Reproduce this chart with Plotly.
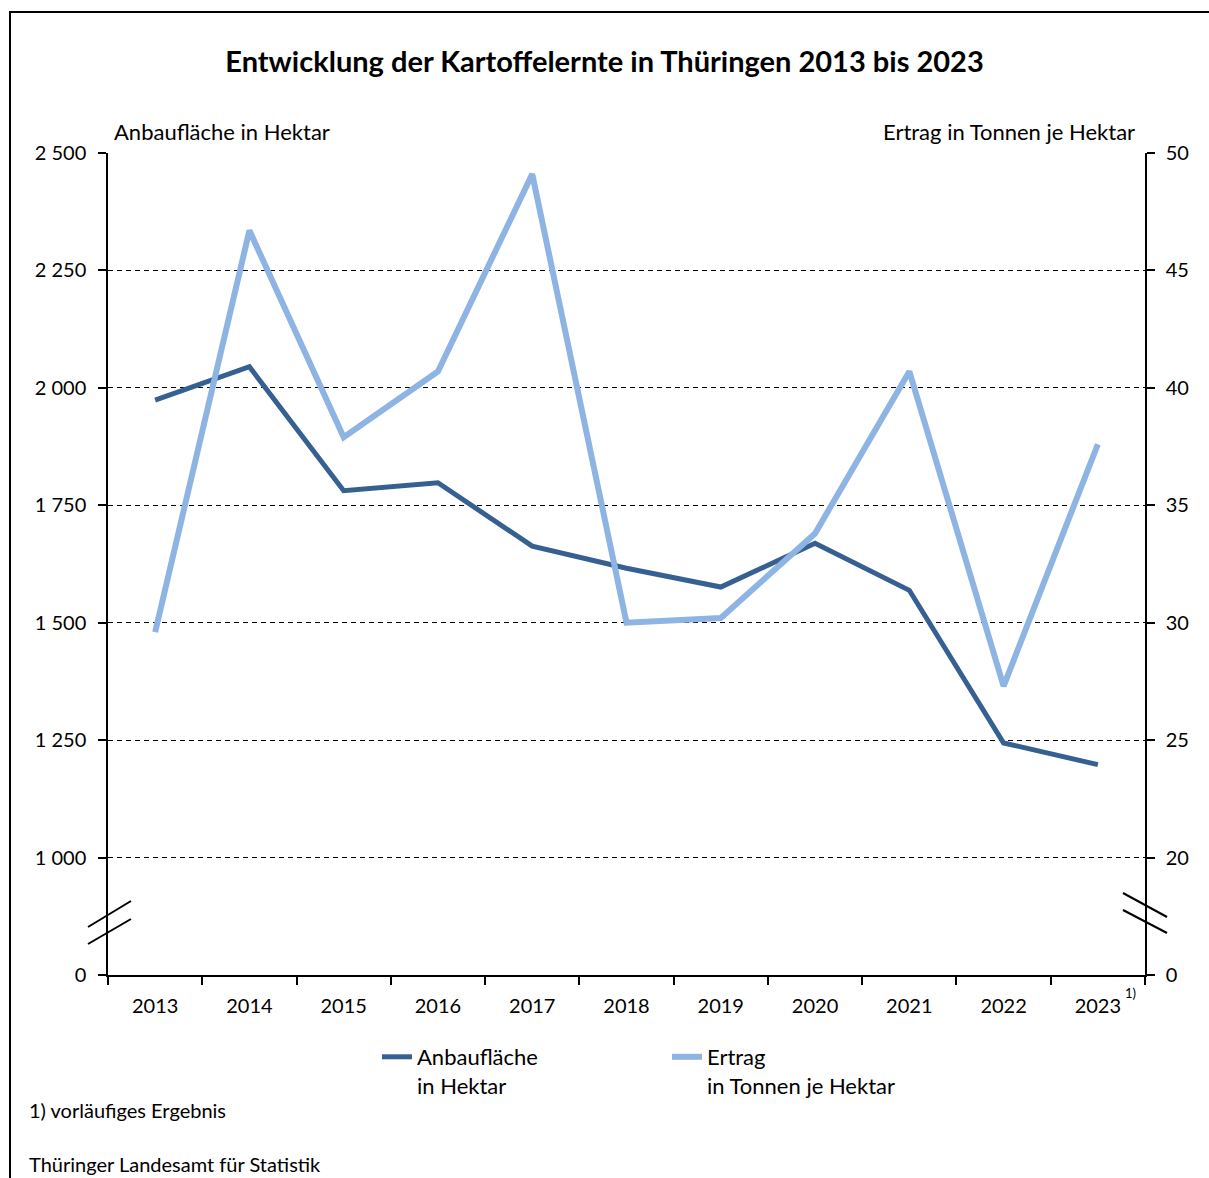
import plotly.graph_objects as go

years = ["2013", "2014", "2015", "2016", "2017", "2018", "2019", "2020", "2021", "2022", "2023"]
anbauflaeche = [1974, 2045, 1781, 1798, 1663, 1616, 1576, 1669, 1569, 1244, 1198]
ertrag = [29.6, 46.7, 37.9, 40.7, 49.1, 30.0, 30.2, 33.8, 40.7, 27.3, 37.6]

left_tickvals = [750, 1000, 1250, 1500, 1750, 2000, 2250, 2500]
left_ticktext = ["0", "1 000", "1 250", "1 500", "1 750", "2 000", "2 250", "2 500"]
right_tickvals = [15, 20, 25, 30, 35, 40, 45, 50]
right_ticktext = ["0", "20", "25", "30", "35", "40", "45", "50"]

FONT = "Lato"
W, H = 1209, 1178
L, R, T, B = 108, 1145, 153, 975
pw, ph = R - L, B - T


def px(xp):
    return (xp - L) / pw


def py(yp):
    return (B - yp) / ph


fig = go.Figure()
fig.add_trace(go.Scatter(
    x=years, y=anbauflaeche, mode="lines",
    name="Anbaufläche<br>in Hektar",
    line=dict(color="#366092", width=5),
    yaxis="y",
))
fig.add_trace(go.Scatter(
    x=years, y=ertrag, mode="lines",
    name="Ertrag<br>in Tonnen je Hektar",
    line=dict(color="#8EB4E3", width=6),
    yaxis="y2",
))

shapes = []
# outer frame
shapes.append(dict(type="rect", xref="paper", yref="paper",
                   x0=px(10), x1=px(1213), y0=py(1195), y1=py(12),
                   line=dict(color="black", width=2), layer="below"))
# axis break marks
for (x0, y0, x1, y1) in [(88, 927, 131, 901), (88, 944, 131, 919),
                         (1123, 893, 1167, 917), (1123, 910, 1167, 933)]:
    shapes.append(dict(type="line", xref="paper", yref="paper",
                       x0=px(x0), y0=py(y0), x1=px(x1), y1=py(y1),
                       line=dict(color="black", width=2)))

annotations = [
    dict(text="Anbaufläche in Hektar", xref="paper", yref="paper",
         x=px(112), y=py(132), xanchor="left", yanchor="middle",
         showarrow=False, font=dict(size=22, color="black", family=FONT)),
    dict(text="Ertrag in Tonnen je Hektar", xref="paper", yref="paper",
         x=px(1137), y=py(132), xanchor="right", yanchor="middle",
         showarrow=False, font=dict(size=22, color="black", family=FONT)),
    dict(text="1)", xref="x", yref="paper", x=len(years) - 1, y=py(993),
         xshift=25, xanchor="left", yanchor="middle",
         showarrow=False, font=dict(size=13, color="black", family=FONT)),
    dict(text="1) vorläufiges Ergebnis", xref="paper", yref="paper",
         x=px(27), y=py(1110), xanchor="left", yanchor="middle",
         showarrow=False, font=dict(size=20, color="black", family=FONT)),
    dict(text="Thüringer Landesamt für Statistik", xref="paper", yref="paper",
         x=px(27), y=py(1164), xanchor="left", yanchor="middle",
         showarrow=False, font=dict(size=20, color="black", family=FONT)),
]

fig.update_layout(
    width=W, height=H,
    margin=dict(l=L, r=W - R, t=T, b=H - B),
    paper_bgcolor="white", plot_bgcolor="white",
    font=dict(family=FONT, size=20, color="black"),
    title=dict(text="<b>Entwicklung der Kartoffelernte in Thüringen 2013 bis 2023</b>",
               x=0.5, xref="container", xanchor="center",
               y=1 - 62 / H, yref="container", yanchor="middle",
               font=dict(size=29, family=FONT, color="black")),
    xaxis=dict(type="category", range=[-0.5, len(years) - 0.5],
               showline=True, linecolor="black", linewidth=1.5,
               ticks="outside", tickson="boundaries", ticklen=8, tickwidth=1.5,
               tickcolor="black", showgrid=False, zeroline=False,
               ticklabelstandoff=12,
               tickangle=0, tickfont=dict(size=20)),
    yaxis=dict(range=[750, 2500], tickvals=left_tickvals, ticktext=left_ticktext,
               showline=True, linecolor="black", linewidth=1.5,
               ticks="outside", ticklen=8, tickwidth=1.5, tickcolor="black",
               ticklabelstandoff=8,
               showgrid=True, gridcolor="black", gridwidth=1, griddash="5px,4px",
               zeroline=False, tickfont=dict(size=20)),
    yaxis2=dict(range=[15, 50], tickvals=right_tickvals, ticktext=right_ticktext,
                overlaying="y", side="right", anchor="x",
                showline=True, linecolor="black", linewidth=1.5,
                ticks="outside", ticklen=8, tickwidth=1.5, tickcolor="black",
                ticklabelstandoff=7,
                showgrid=False, zeroline=False, tickfont=dict(size=20)),
    legend=dict(orientation="h", x=px(377), y=py(1036), xanchor="left", yanchor="top",
                valign="top", entrywidth=245, entrywidthmode="pixels",
                font=dict(size=22), bgcolor="rgba(0,0,0,0)", tracegroupgap=0),
    shapes=shapes,
    annotations=annotations,
)

fig.write_html("out.html", config={"displayModeBar": False},
               post_script="document.body.style.margin='0';")
